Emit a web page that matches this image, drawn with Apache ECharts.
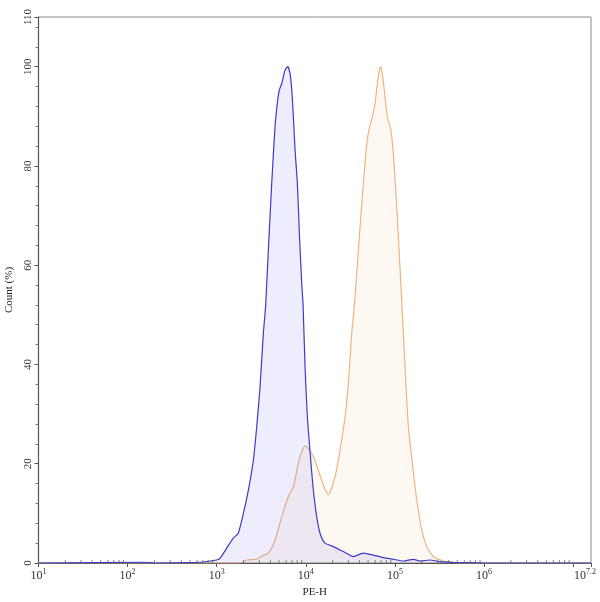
<!DOCTYPE html>
<html>
<head>
<meta charset="utf-8">
<script src="https://cdn.jsdelivr.net/npm/echarts@6/dist/echarts.min.js"></script>
<style>html,body{margin:0;padding:0;background:#fff}#c{width:600px;height:602px}</style>
</head>
<body>
<div id="c"></div>
<script>
// PE-H values (linear) and Count (%) for each histogram
const blueX = [10, 150, 170, 200, 500, 700, 841, 1000, 1089, 1294, 1535, 1746, 1990, 2265, 2577, 2812, 3062, 3336, 3532, 3795, 4142, 4509, 4786, 5047, 5369, 5848, 6266, 6653, 6953, 7246, 7570, 8035, 8458, 8995, 9311, 9797, 10400, 11350, 12140, 13250, 14430, 16410, 20350, 26370, 34140, 44180, 57230, 74130, 95950, 124200, 160900, 191300, 247700, 320700, 448700, 752000, 1200000, 15848932];
const blueY = [0, 0.15, 0.1, 0, 0.1, 0.2, 0.4, 0.6, 0.95, 3.0, 5.0, 6.0, 10.0, 14.7, 20.7, 27.5, 35.5, 46.3, 51.6, 63.0, 76.5, 87.9, 92.6, 95.3, 96.6, 99.3, 100, 98.6, 95.3, 89.9, 83.2, 76.5, 66.4, 56.3, 52.0, 39.5, 29.5, 20.7, 14.7, 9.3, 6.0, 4.0, 3.3, 2.3, 1.3, 2.0, 1.6, 1.1, 0.75, 0.4, 0.75, 0.4, 0.6, 0.26, 0.14, 0.06, 0, 0];

const orangeX = [10, 1826, 2173, 2812, 3199, 3795, 4509, 5369, 6368, 7246, 8241, 8995, 9797, 10670, 12140, 13810, 15710, 17900, 21270, 24210, 27540, 29990, 32740, 35220, 38850, 44180, 48270, 51610, 56360, 59820, 63440, 66800, 69300, 72970, 77440, 82180, 89800, 95950, 102100, 109200, 119200, 129800, 141400, 158400, 175700, 199900, 227500, 270000, 349400, 452100, 585800, 15848932];
const orangeY = [0, 0, 0.6, 0.75, 1.4, 2.0, 4.6, 9.3, 13.4, 15.4, 20.1, 22.4, 23.6, 23.1, 21.4, 18.7, 15.7, 13.8, 17.4, 22.8, 29.4, 36.2, 46.3, 52.4, 63.0, 76.5, 84.5, 87.6, 90.2, 92.6, 96.6, 99.3, 100, 97.9, 93.9, 89.9, 87.2, 82.5, 75.1, 65.7, 52.6, 39.5, 27.5, 19.4, 12.7, 6.6, 3.3, 1.3, 0.4, 0.14, 0, 0];

const xMinExp = 1;
const xMaxExp = 7.2;
const yTicks = [0, 20, 40, 60, 80, 100, 110];

const pairs = (xs, ys) => xs.map((x, i) => [x, ys[i]]);

// log-spaced minor tick positions (2..9 x 10^n)
const minorTickX = [];
for (let e = xMinExp; e < Math.ceil(xMaxExp); e++) {
  for (let k = 2; k <= 9; k++) {
    const v = k * Math.pow(10, e);
    if (v < Math.pow(10, xMaxExp)) minorTickX.push(v);
  }
}

const font = '"Liberation Serif", "DejaVu Serif", serif';
const chart = echarts.init(document.getElementById('c'), null, { renderer: 'canvas' });
chart.setOption({
  animation: false,
  backgroundColor: '#fff',
  grid: { left: 38.5, right: 9, top: 17, bottom: 39, outerBoundsMode: 'none', containLabel: false, show: true, borderColor: '#8a8a8a', borderWidth: 1, backgroundColor: 'transparent' },
  xAxis: {
    type: 'log', logBase: 10,
    min: Math.pow(10, xMinExp), max: Math.pow(10, xMaxExp),
    name: 'PE-H', nameLocation: 'middle', nameGap: 23,
    nameTextStyle: { fontFamily: font, fontSize: 11, color: '#222' },
    axisLine: { lineStyle: { color: '#555', width: 1.2 } },
    axisTick: { show: true, inside: false, length: 4, lineStyle: { color: '#555' } },
    splitLine: { show: false },
    axisLabel: {
      showMaxLabel: true, showMinLabel: true, margin: 5,
      formatter: function (v) {
        const e = Math.round(Math.log10(v) * 10) / 10;
        if (e === 7) return '';
        if (e === xMaxExp) return '{b|10}{s2|' + e + '}';
        return '{b|10}{s|' + e + '}';
      },
      rich: {
        b: { fontFamily: font, fontSize: 12, color: '#333' },
        s: { fontFamily: font, fontSize: 8, color: '#333', padding: [0, 0, 7, 0] },
        s2: { fontFamily: font, fontSize: 8, color: '#333', padding: [0, 12, 7, 0] }
      }
    }
  },
  yAxis: {
    type: 'value', min: 0, max: 110, interval: 20,
    name: 'Count (%)', nameLocation: 'middle', nameGap: 19, nameRotate: 90,
    nameTextStyle: { fontFamily: font, fontSize: 11, color: '#222' },
    axisLine: { show: true, lineStyle: { color: '#555', width: 1.2 } },
    axisTick: { show: true, inside: false, length: 4, lineStyle: { color: '#555' } },
    minorTick: { show: true, splitNumber: 5, length: 3, lineStyle: { color: '#777' } },
    splitLine: { show: false },
    axisLabel: {
      rotate: 90, margin: 5, fontFamily: font, fontSize: 11, color: '#333',
      formatter: function (v) { return yTicks.indexOf(v) >= 0 ? String(v) : ''; }
    }
  },
  series: [
    {
      name: 'blue', type: 'line', data: pairs(blueX, blueY), showSymbol: false, smooth: 0.2,
      lineStyle: { color: '#3c3cc8', width: 1.2 },
      areaStyle: { color: 'rgba(110,110,240,0.18)' }, z: 3
    },
    {
      name: 'orange', type: 'line', data: pairs(orangeX, orangeY), showSymbol: false, smooth: 0.2,
      lineStyle: { color: '#eeb47e', width: 1.2 },
      areaStyle: { color: 'rgba(245,175,110,0.13)' }, z: 2
    },
    {
      name: 'minorTicks', type: 'scatter', silent: true,
      data: minorTickX.map(v => [v, 0]),
      symbol: 'rect', symbolSize: [1, 3], symbolOffset: [0, -1.5],
      itemStyle: { color: '#666' }, z: 5, clip: false
    }
  ]
});
</script>
</body>
</html>
